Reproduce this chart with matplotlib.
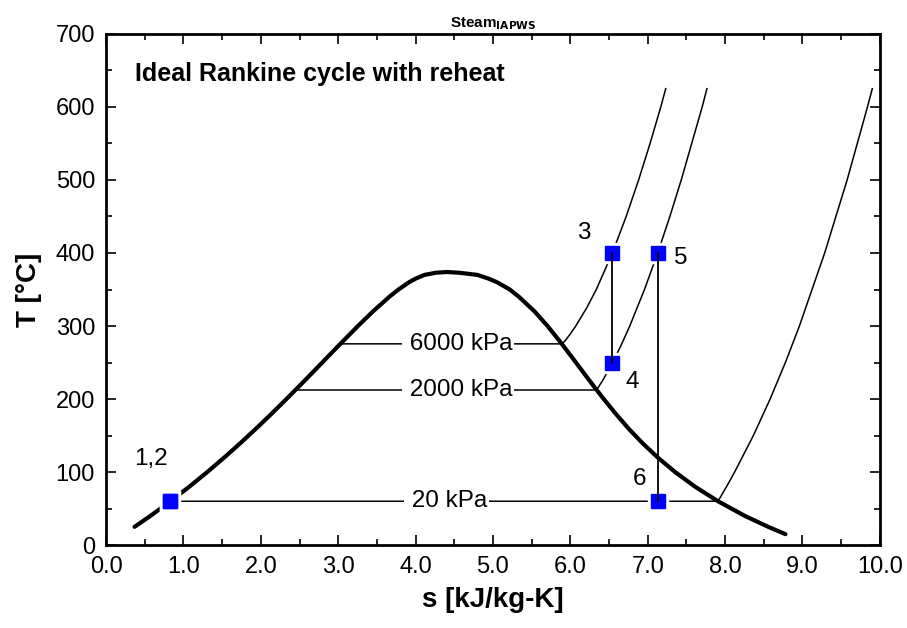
import numpy as np
import matplotlib
matplotlib.use("Agg")
import matplotlib.pyplot as plt
from matplotlib.ticker import MultipleLocator, FormatStrFormatter

plt.rcParams['font.family'] = ['Liberation Sans', 'DejaVu Sans']

# saturation dome of water (T in C, s in kJ/kg-K)
sat_T_liq = [25, 40, 60, 80, 100, 120, 140, 160, 180, 200, 220, 240, 260, 280,
             300, 320, 340, 350, 360, 365, 370, 373, 373.95]
sat_s_liq = [0.3672, 0.5724, 0.8313, 1.0753, 1.3069, 1.5276, 1.7391, 1.9427, 2.1396,
             2.3305, 2.5177, 2.7020, 2.8847, 3.0683, 3.2547, 3.4491, 3.6605, 3.7788,
             3.9162, 4.0030, 4.1141, 4.2640, 4.4070]
sat_T_vap = [373.95, 373, 370, 365, 360, 350, 340, 320, 300, 280, 260, 240, 220, 200,
             180, 160, 140, 120, 100, 80, 60, 40, 25, 15]
sat_s_vap = [4.4070, 4.5600, 4.7996, 4.9400, 5.0526, 5.2177, 5.3359, 5.5372, 5.7059,
             5.8571, 6.0019, 6.1434, 6.2854, 6.4322, 6.5857, 6.7491, 6.9293, 7.1296,
             7.3549, 7.6122, 7.9096, 8.2557, 8.5580, 8.7803]

# isobars
p20_s = [0.832, 7.9085, 8.019, 8.1235, 8.366, 8.5826, 8.7795, 8.9609, 9.2875, 9.5777, 9.8408, 9.903]
p20_T = [60.06, 60.06, 80, 100, 150, 200, 250, 300, 400, 500, 600, 625]
p2000_s = [2.4474, 6.3390, 6.4160, 6.5475, 6.662, 6.7684, 6.9583, 7.1292, 7.2866, 7.4337, 7.7043, 7.766]
p2000_T = [212.38, 212.38, 225, 250, 275, 300, 350, 400, 450, 500, 600, 625]
p6000_s = [3.0273, 5.8902, 5.935, 6.005, 6.0703, 6.2125, 6.3357, 6.5432, 6.7219, 6.8826, 7.0307, 7.1693, 7.233]
p6000_T = [275.59, 275.59, 280, 290, 300, 325, 350, 400, 450, 500, 550, 600, 625]

# cycle state points
state_labels = ['1', '2', '3', '4', '5', '6']
state_s = [0.832, 0.832, 6.5432, 6.5432, 7.1292, 7.1292]
state_T = [60.06, 60.06, 400, 249.2, 400, 60.06]

fig = plt.figure(figsize=(9.07, 6.28), dpi=100)
ax = fig.add_axes([0.117, 0.132, 0.853, 0.814])

ax.plot(sat_s_liq + sat_s_vap, sat_T_liq + sat_T_vap, color='black', lw=3, solid_capstyle='round')
for s, T in [(p20_s, p20_T), (p2000_s, p2000_T), (p6000_s, p6000_T)]:
    ax.plot(s, T, color='black', lw=1.1)

# isobar labels on white boxes
for txt, x, y in [(' 6000 kPa', 4.55, 275.59), (' 2000 kPa', 4.55, 212.38), (' 20 kPa', 4.4, 60.06)]:
    ax.text(x, y, txt, fontsize=17.5, ha='center', va='center',
            bbox=dict(facecolor='white', edgecolor='none', pad=1))

# markers with white halo, then the expansion lines on top
ax.plot(state_s, state_T, 's', ms=14, color='white', ls='none')
ax.plot(state_s, state_T, 's', ms=10.5, color='blue', ls='none')
ax.plot([state_s[2], state_s[3]], [state_T[2], state_T[3]], color='black', lw=1.3)
ax.plot([state_s[4], state_s[5]], [state_T[4], state_T[5]], color='black', lw=1.3)

ax.text(0.58, 118, '1,2', fontsize=17.5, ha='center', va='center')
ax.text(6.18, 428, '3', fontsize=17.5, ha='center', va='center')
ax.text(6.8, 224, '4', fontsize=17.5, ha='center', va='center')
ax.text(7.43, 393, '5', fontsize=17.5, ha='center', va='center')
ax.text(6.9, 90, '6', fontsize=17.5, ha='center', va='center')

ax.text(0.37, 645, 'Ideal Rankine cycle with reheat', fontsize=18, fontweight='bold',
        ha='left', va='center')

ax.set_xlim(0, 10)
ax.set_ylim(0, 700)
ax.xaxis.set_major_locator(MultipleLocator(1))
ax.xaxis.set_minor_locator(MultipleLocator(0.5))
ax.yaxis.set_major_locator(MultipleLocator(100))
ax.yaxis.set_minor_locator(MultipleLocator(50))
ax.xaxis.set_major_formatter(FormatStrFormatter('%.1f'))
ax.tick_params(which='both', direction='in', top=True, right=True, width=1.2, labelsize=17, pad=8)
ax.tick_params(which='major', length=7)
ax.tick_params(which='minor', length=4)
for sp in ax.spines.values():
    sp.set_linewidth(2)

ax.set_xlabel('s [kJ/kg-K]', fontsize=20, fontweight='bold', labelpad=6)
ax.set_ylabel('T [°C]', fontsize=20, fontweight='bold', labelpad=10)
ax.set_title(r'Steam$_{\mathbf{IAPWS}}$', fontsize=11, fontweight='bold', pad=5)

fig.savefig('out.png', dpi=100)
